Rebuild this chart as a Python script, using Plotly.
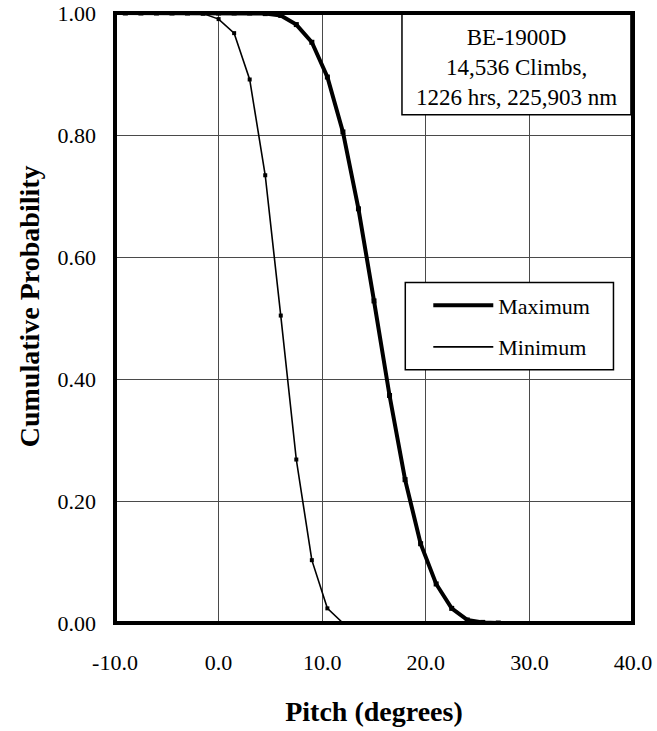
import plotly.graph_objects as go

# Data
pitch_max = [-10.5, -9.0, -7.5, -6.0, -4.5, -3.0, -1.5, 0.0, 1.5, 3.0, 4.5, 6.0, 7.5, 9.0, 10.5,
             12.0, 13.5, 15.0, 16.5, 18.0, 19.5, 21.0, 22.5, 24.0, 25.5, 27.0]
prob_max = [1.0, 1.0, 1.0, 1.0, 1.0, 1.0, 1.0, 1.0, 1.0, 1.0, 0.999, 0.996, 0.981, 0.952, 0.895,
            0.805, 0.679, 0.528, 0.373, 0.235, 0.130, 0.064, 0.024, 0.005, 0.001, 0.0]

pitch_min = [-10.5, -9.0, -7.5, -6.0, -4.5, -3.0, -1.5, 0.0, 1.5, 3.0, 4.5, 6.0, 7.5, 9.0, 10.5, 12.0]
prob_min = [1.0, 1.0, 1.0, 1.0, 1.0, 1.0, 0.999, 0.990, 0.967, 0.891, 0.734, 0.504, 0.268, 0.103,
            0.024, 0.0]

x_ticks = [-10, 0, 10, 20, 30, 40]
x_labels = ["-10.0", "0.0", "10.0", "20.0", "30.0", "40.0"]
y_ticks = [0.0, 0.2, 0.4, 0.6, 0.8, 1.0]
y_labels = ["0.00", "0.20", "0.40", "0.60", "0.80", "1.00"]

info_lines = ["BE-1900D", "14,536 Climbs,", "1226 hrs, 225,903 nm"]

FONT = "Liberation Serif, Times New Roman, serif"

fig = go.Figure()
# Lines (with legend entries)
fig.add_trace(go.Scatter(x=pitch_max, y=prob_max, mode="lines", name="Maximum",
                         line=dict(color="black", width=4), legendgroup="a"))
fig.add_trace(go.Scatter(x=pitch_min, y=prob_min, mode="lines", name="Minimum",
                         line=dict(color="black", width=1.6), legendgroup="b"))
# Markers (no legend)
fig.add_trace(go.Scatter(x=pitch_max, y=prob_max, mode="markers", showlegend=False,
                         marker=dict(symbol="square", size=5, color="black")))
fig.add_trace(go.Scatter(x=pitch_min, y=prob_min, mode="markers", showlegend=False,
                         marker=dict(symbol="square", size=4, color="black")))

# Info box
fig.add_shape(type="rect", xref="x", yref="y", x0=17.7, x1=39.8, y0=0.833, y1=1.0,
              fillcolor="white", line=dict(color="black", width=1.5), layer="above")
fig.add_annotation(xref="paper", yref="paper", x=0.775, y=0.910, xanchor="center", yanchor="middle",
                   text="<br>".join(info_lines), showarrow=False,
                   font=dict(family=FONT, size=23, color="black"), align="center")

# Legend frame
fig.add_shape(type="rect", xref="paper", yref="paper", x0=0.5604, x1=0.9623, y0=0.4152, y1=0.5584,
              fillcolor="white", line=dict(color="black", width=1.5), layer="above")

# Plot-area border (thick)
fig.add_shape(type="rect", xref="paper", yref="paper", x0=0, x1=1, y0=0, y1=1,
              line=dict(color="black", width=4), layer="above")

# Y-axis title
fig.add_annotation(xref="paper", yref="paper", x=-0.165, y=0.5185, xanchor="center", yanchor="middle",
                   text="<b>Cumulative Probability</b>", textangle=-90, showarrow=False,
                   font=dict(family=FONT, size=28, color="black"))

fig.update_xaxes(range=[-10, 40], tickvals=x_ticks, ticktext=x_labels,
                 showgrid=True, gridcolor="#4a4a4a", gridwidth=1,
                 showline=False, zeroline=False, ticks="", ticklabelstandoff=24,
                 tickfont=dict(family=FONT, size=22, color="black"),
                 title=dict(text="<b>Pitch (degrees)</b>", standoff=27,
                            font=dict(family=FONT, size=28, color="black")))
fig.update_yaxes(range=[0, 1], tickvals=y_ticks, ticktext=y_labels,
                 showgrid=True, gridcolor="#4a4a4a", gridwidth=1,
                 showline=False, zeroline=False, ticks="", ticklabelstandoff=18,
                 tickfont=dict(family=FONT, size=22, color="black"))

fig.update_layout(
    width=657, height=731,
    margin=dict(l=115, r=24, t=13, b=108, autoexpand=False),
    paper_bgcolor="white", plot_bgcolor="white",
    font=dict(family=FONT, color="black"),
    legend=dict(x=0.6048, y=0.555, xanchor="left", yanchor="top",
                borderwidth=0, bgcolor="rgba(0,0,0,0)", itemwidth=60,
                font=dict(family=FONT, size=22, color="black"),
                traceorder="grouped", tracegroupgap=10),
    showlegend=True,
)

fig.write_html("out.html")
